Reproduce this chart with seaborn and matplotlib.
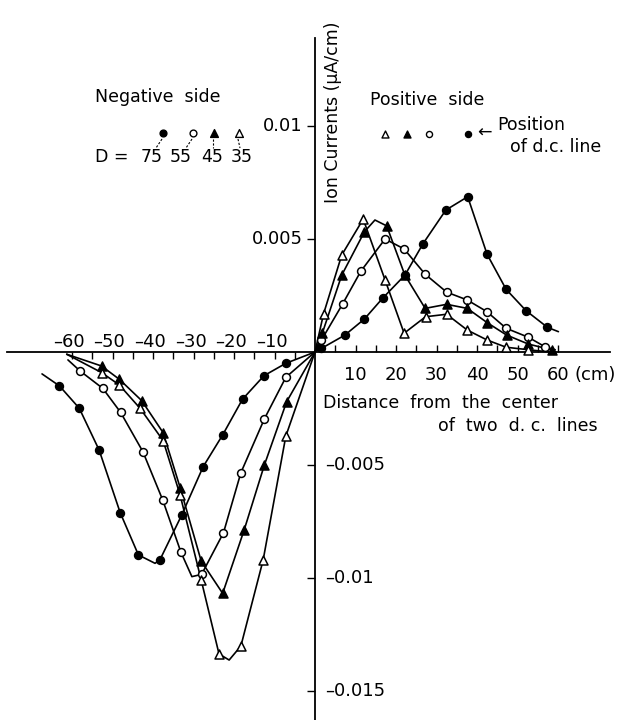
import numpy as np
import pandas as pd
import matplotlib
matplotlib.use("Agg")
import matplotlib.pyplot as plt
import matplotlib.lines as mlines
from matplotlib import transforms as mtransforms
import seaborn as sns

# ---------------- data ----------------
D_values = [75, 55, 45, 35]

# measured (marked) points, x in cm, y in uA/cm
x_75 = [-63.1, -58.2, -53.3, -48.1, -43.6, -38.3, -32.9, -27.6, -22.8, -17.9, -12.6, -7.2,
        1.6, 7.4, 12.2, 16.7, 22.2, 26.7, 32.3, 37.7, 42.5, 47.2, 52.1, 57.4]
y_75 = [-0.0015, -0.00249, -0.00434, -0.00711, -0.00898, -0.0092, -0.00721, -0.00507, -0.00367, -0.00209, -0.00105, -0.0005,
        0.00016, 0.00075, 0.00146, 0.00238, 0.0034, 0.0048, 0.00628, 0.00687, 0.00432, 0.00277, 0.00183, 0.00109]

x_55 = [-58.0, -52.4, -48.0, -42.5, -37.6, -33.1, -28.0, -22.6, -18.3, -12.5, -7.2,
        1.6, 6.8, 11.3, 17.3, 22.0, 27.2, 32.5, 37.6, 42.4, 47.2, 52.7, 56.8]
y_55 = [-0.00084, -0.00161, -0.00267, -0.00441, -0.00655, -0.00886, -0.00984, -0.008, -0.00534, -0.00296, -0.00112,
        0.00053, 0.00212, 0.00357, 0.005, 0.00456, 0.00344, 0.00265, 0.0023, 0.00179, 0.00105, 0.00065, 0.00023]

x_45 = [-52.7, -48.3, -42.8, -37.5, -33.3, -28.1, -22.8, -17.5, -12.5, -7.0,
        1.8, 6.6, 12.2, 17.7, 22.2, 27.2, 32.5, 37.6, 42.5, 47.3, 52.7, 58.4]
y_45 = [-0.00062, -0.00121, -0.00215, -0.00357, -0.006, -0.00925, -0.01068, -0.00788, -0.005, -0.0022,
        0.00083, 0.0034, 0.00532, 0.00558, 0.0034, 0.00193, 0.00211, 0.00193, 0.0013, 0.00075, 0.00035, 0.0001]

x_35 = [-52.7, -48.3, -43.2, -37.5, -33.3, -28.1, -23.7, -18.3, -12.8, -7.2,
        2.1, 6.6, 11.9, 17.3, 22.0, 27.3, 32.5, 37.6, 42.5, 47.2, 52.7]
y_35 = [-0.00091, -0.00146, -0.00249, -0.00392, -0.00633, -0.01009, -0.01336, -0.01301, -0.0092, -0.00372,
        0.00168, 0.00429, 0.00588, 0.00319, 0.00083, 0.00156, 0.00167, 0.00097, 0.00053, 0.00021, 0.0001]

# points on the drawn curves without a marker (curve ends, origin, extrema)
cx_75 = [-67.4, -39.5, 0.0, 60.1]
cy_75 = [-0.00097, -0.00935, 0.0, 0.0009]
cx_55 = [-61.0, -30.4, 0.0, 59.3]
cy_55 = [-0.00035, -0.00994, 0.0, 0.0001]
cx_45 = [-61.3, 0.0, 14.8, 59.3]
cy_45 = [-0.0001, 0.0, 0.00584, 0.0]
cx_35 = [-61.3, -21.2, 0.0, 58.0]
cy_35 = [-0.0001, -0.01363, 0.0, 0.0]

x_neg_ticklabels = ["\u201360", "\u201350", "\u201340", "\u201330", "\u201320", "\u201310"]
x_neg_tickpos = [-60, -50, -40, -30, -20, -10]
x_pos_ticklabels = ["10", "20", "30", "40", "50", "60"]
x_pos_tickpos = [10, 20, 30, 40, 50, 60]
y_pos_ticklabels = ["0.005", "0.01"]
y_pos_tickpos = [0.005, 0.01]
y_neg_ticklabels = ["\u20130.005", "\u20130.01", "\u20130.015"]
y_neg_tickpos = [-0.005, -0.01, -0.015]

# ---------------- figure ----------------
sns.set_style("white")
plt.rcParams["font.family"] = ["DejaVu Sans"]
plt.rcParams["text.color"] = "black"

W, H = 619, 720
fig = plt.figure(figsize=(W / 100, H / 100), dpi=100)
ax = fig.add_axes([0, 0, 1, 1])

# pixel mapping used to size the axes: px = 315 + 4.05*x ; py = 352 - 22600*y
X0, SX = 315.0, 4.05
Y0, SY = 352.0, 22600.0
ax.set_xlim((0 - X0) / SX, (W - X0) / SX)
ax.set_ylim((Y0 - H) / SY, (Y0 - 0) / SY)

marked = {75: (x_75, y_75), 55: (x_55, y_55), 45: (x_45, y_45), 35: (x_35, y_35)}
curve = {75: (cx_75, cy_75), 55: (cx_55, cy_55), 45: (cx_45, cy_45), 35: (cx_35, cy_35)}
styles = {75: ("o", "black", 32), 55: ("o", "white", 32), 45: ("^", "black", 42), 35: ("^", "white", 42)}

for D in D_values:
    mx, my = marked[D]
    cx, cy = curve[D]
    line_df = pd.DataFrame({"x": list(mx) + list(cx), "y": list(my) + list(cy)}).sort_values("x")
    sns.lineplot(data=line_df, x="x", y="y", sort=False, estimator=None, color="black",
                 lw=1.2, ax=ax, zorder=2)
for D in D_values:
    mx, my = marked[D]
    m, fc, s = styles[D]
    sns.scatterplot(x=mx, y=my, marker=m, s=s, facecolor=fc, edgecolor="black",
                    linewidth=1.1, ax=ax, zorder=3)

# axes through the origin
for side in ["top", "right"]:
    ax.spines[side].set_visible(False)
ax.spines["left"].set_position(("data", 0))
ax.spines["bottom"].set_position(("data", 0))
ax.spines["left"].set_bounds((Y0 - H) / SY, (Y0 - 38) / SY)
ax.spines["bottom"].set_bounds((7 - X0) / SX, (610 - X0) / SX)
for sp in ["left", "bottom"]:
    ax.spines[sp].set_linewidth(1.3)
    ax.spines[sp].set_color("black")
ax.set_xlabel("")
ax.set_ylabel("")

xt = [v for v in range(-60, 61, 5) if v != 0]
ax.set_xticks(xt)
ax.set_yticks(y_neg_tickpos + y_pos_tickpos)
ax.tick_params(axis="x", direction="out", length=5, width=1.0, color="black",
               labelbottom=False, bottom=True)
ax.tick_params(axis="y", direction="out", length=6, width=1.0, color="black",
               labelleft=False, left=True)
for t, v in zip(ax.xaxis.get_major_ticks(), xt):
    t.tick1line.set_marker(mlines.TICKUP if v > 0 else mlines.TICKDOWN)

FS = 13
def off(dx, dy):
    return mtransforms.offset_copy(ax.transData, fig=fig, x=dx, y=dy, units="dots")

for v, lab in zip(x_neg_tickpos, x_neg_ticklabels):
    ax.text(v, 0, lab, transform=off(-3, 10), ha="center", va="center", fontsize=FS)
for v, lab in zip(x_pos_tickpos, x_pos_ticklabels):
    ax.text(v, 0, lab, transform=off(0, -23), ha="center", va="center", fontsize=FS)
ax.text((595 - X0) / SX, 0, "(cm)", transform=off(0, -23), ha="center", va="center", fontsize=FS)
for v, lab in zip(y_pos_tickpos, y_pos_ticklabels):
    ax.text(0, v, lab, transform=off(-12, 0), ha="right", va="center", fontsize=FS)
for v, lab in zip(y_neg_tickpos, y_neg_ticklabels):
    ax.text(0, v, lab, transform=off(10, 0), ha="left", va="center", fontsize=FS)

def fx(px):
    return px / W
def fy(py):
    return 1 - py / H

TF = 12.5
fig.text(fx(333), fy(112), "Ion Currents (\u03bcA/cm)", rotation=90, ha="center", va="center", fontsize=TF)
fig.text(fx(323), fy(403), "Distance  from  the  center", ha="left", va="center", fontsize=TF)
fig.text(fx(438), fy(426), "of  two  d. c.  lines", ha="left", va="center", fontsize=TF)

# negative-side key
fig.text(fx(95), fy(97), "Negative  side", ha="left", va="center", fontsize=TF)
fig.text(fx(95), fy(157), "D =", ha="left", va="center", fontsize=TF)
for cxp, lab in zip([152, 181, 212, 242], ["75", "55", "45", "35"]):
    fig.text(fx(cxp), fy(157), lab, ha="center", va="center", fontsize=TF)
neg_key = [(163, 75, 156), (193, 55, 186), (214, 45, 213), (239, 35, 240)]
for kx, D, lx in neg_key:
    m, fc, s = styles[D]
    ax.scatter([fx(kx)], [fy(133)], marker=m, s=s * 0.75, facecolor=fc, edgecolor="black",
               linewidth=1.0, transform=fig.transFigure, clip_on=False)
    ax.plot([fx(kx - 1), fx(lx)], [fy(139), fy(148)], color="black", lw=0.8, ls=(0, (2, 1.5)),
            transform=fig.transFigure, clip_on=False)

# positive-side key
fig.text(fx(370), fy(100), "Positive  side", ha="left", va="center", fontsize=TF)
for kx, D in [(385, 35), (407, 45), (429, 55), (468, 75)]:
    m, fc, s = styles[D]
    ax.scatter([fx(kx)], [fy(134)], marker=m, s=s * 0.6, facecolor=fc, edgecolor="black",
               linewidth=1.0, transform=fig.transFigure, clip_on=False)
fig.text(fx(484), fy(133), "\u2190", ha="center", va="center", fontsize=TF)
fig.text(fx(497), fy(125), "Position", ha="left", va="center", fontsize=TF)
fig.text(fx(510), fy(147), "of d.c. line", ha="left", va="center", fontsize=TF)

fig.savefig("out.png", dpi=100)
